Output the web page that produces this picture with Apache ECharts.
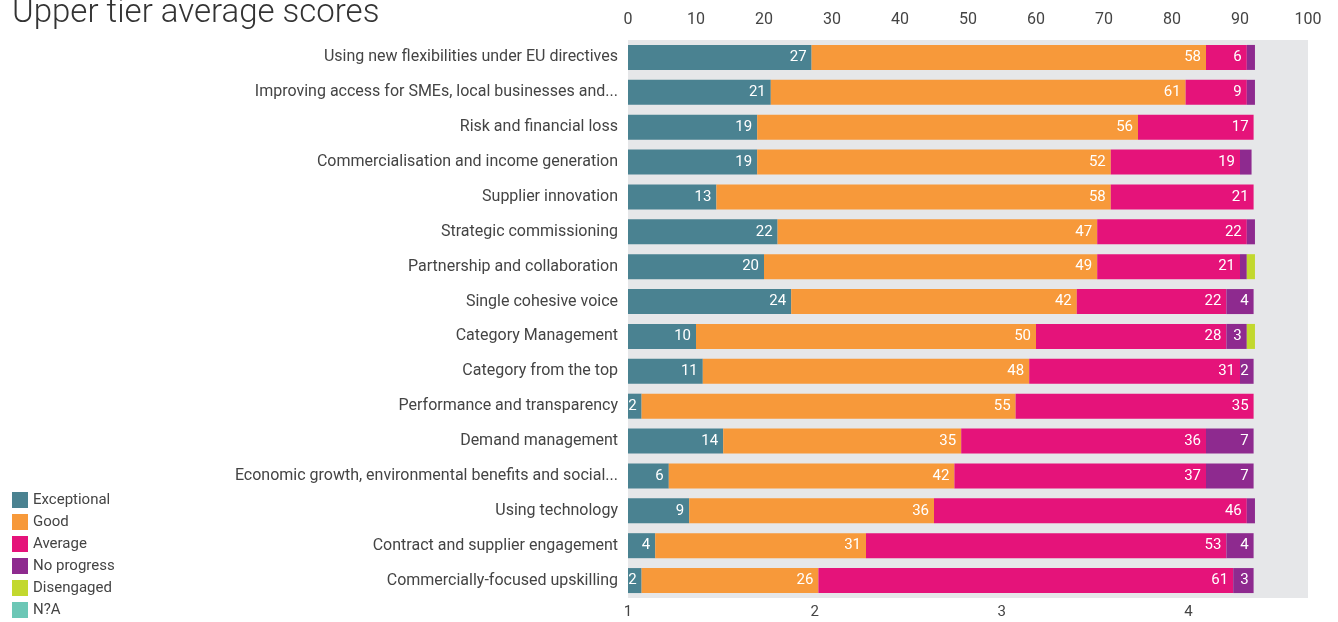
<!DOCTYPE html>
<html>
<head>
<meta charset="utf-8">
<script src="https://cdn.jsdelivr.net/npm/echarts@6/dist/echarts.min.js"></script>
<style>
  html, body { margin: 0; padding: 0; background: #fff; }
  #chart-container { width: 1338px; height: 622px; }
</style>
</head>
<body>
<div id="chart-container"></div>
<script>
var categories = [
  'Using new flexibilities under EU directives',
  'Improving access for SMEs, local businesses and...',
  'Risk and financial loss',
  'Commercialisation and income generation',
  'Supplier innovation',
  'Strategic commissioning',
  'Partnership and collaboration',
  'Single cohesive voice',
  'Category Management',
  'Category from the top',
  'Performance and transparency',
  'Demand management',
  'Economic growth, environmental benefits and social...',
  'Using technology',
  'Contract and supplier engagement',
  'Commercially-focused upskilling'
];
var exceptional = [27, 21, 19, 19, 13, 22, 20, 24, 10, 11, 2, 14, 6, 9, 4, 2];
var good        = [58, 61, 56, 52, 58, 47, 49, 42, 50, 48, 55, 35, 42, 36, 31, 26];
var average     = [6, 9, 17, 19, 21, 22, 21, 22, 28, 31, 35, 36, 37, 46, 53, 61];
var noProgress  = [1.2, 1.2, 0, 1.7, 0, 1.2, 1, 4, 3, 2, 0, 7, 7, 1.2, 4, 3];
var disengaged  = [0, 0, 0, 0, 0, 0, 1.2, 0, 1.2, 0, 0, 0, 0, 0, 0, 0];
var notApplic   = [0, 0, 0, 0, 0, 0, 0, 0, 0, 0, 0, 0, 0, 0, 0, 0];
var topTicks = [0, 100, 10];
var bottomTicks = [1, 4.64, 1];

var chartDom = document.getElementById('chart-container');
var myChart = echarts.init(chartDom);
var font = 'Roboto, "Liberation Sans", sans-serif';

function makeSeries(name, color, values) {
  return {
    name: name,
    type: 'bar',
    stack: 'total',
    xAxisIndex: 0,
    barWidth: 25,
    itemStyle: { color: color },
    label: {
      show: true,
      position: 'insideRight',
      distance: 5,
      color: '#fff',
      fontSize: 15,
      fontFamily: font,
      formatter: function (p) {
        return p.value >= 1.75 ? Math.round(p.value) : '';
      }
    },
    data: values
  };
}

var option = {
  animation: false,
  title: {
    text: 'Upper tier average scores',
    left: 12,
    top: -3,
    padding: 0,
    textStyle: { fontSize: 33, fontWeight: 300, color: '#333', fontFamily: font }
  },
  legend: {
    orient: 'vertical',
    left: 12,
    top: 492,
    padding: 0,
    itemWidth: 16,
    itemHeight: 16,
    itemGap: 6,
    icon: 'rect',
    textStyle: { fontSize: 15, color: '#444', fontFamily: font },
    data: ['Exceptional', 'Good', 'Average', 'No progress', 'Disengaged', 'N?A']
  },
  grid: {
    left: 628,
    right: 30,
    top: 40,
    bottom: 24,
    show: true,
    backgroundColor: '#e6e7e9',
    borderWidth: 0
  },
  xAxis: [
    {
      type: 'value',
      position: 'top',
      min: topTicks[0],
      max: topTicks[1],
      interval: topTicks[2],
      axisLine: { show: false },
      axisTick: { show: false },
      splitLine: { show: false },
      axisLabel: { fontSize: 16, color: '#444', margin: 12, fontFamily: font }
    },
    {
      type: 'value',
      position: 'bottom',
      min: bottomTicks[0],
      max: bottomTicks[1],
      interval: bottomTicks[2],
      axisLine: { show: false },
      axisTick: { show: false },
      splitLine: { show: false },
      axisLabel: { fontSize: 15, color: '#444', margin: 7, showMaxLabel: false, fontFamily: font }
    }
  ],
  yAxis: {
    type: 'category',
    inverse: true,
    data: categories,
    axisLine: { show: false },
    axisTick: { show: false },
    axisLabel: { fontSize: 16, color: '#444', margin: 10, padding: [3, 0, 0, 0], fontFamily: font }
  },
  series: [
    makeSeries('Exceptional', '#4a8291', exceptional),
    makeSeries('Good', '#f7993a', good),
    makeSeries('Average', '#e5137a', average),
    makeSeries('No progress', '#8e2a8f', noProgress),
    makeSeries('Disengaged', '#c2d82e', disengaged),
    makeSeries('N?A', '#6cc7b6', notApplic)
  ]
};

option && myChart.setOption(option);
</script>
</body>
</html>
